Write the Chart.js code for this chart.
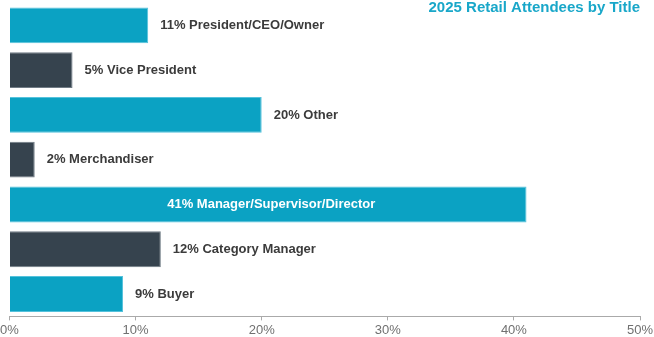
<!DOCTYPE html>
<html>
<head>
<meta charset="utf-8">
<script src="https://cdn.jsdelivr.net/npm/chart.js@4"></script>
<style>
html,body{margin:0;padding:0;background:#fff;}
#wrap{width:654px;height:337px;position:relative;}
</style>
</head>
<body>
<div id="wrap"><canvas id="c"></canvas></div>
<script>
const categories = ["President/CEO/Owner","Vice President","Other","Merchandiser","Manager/Supervisor/Director","Category Manager","Buyer"];
const values = [11,5,20,2,41,12,9];
const tickValues = [0,10,20,30,40,50];
const title = "2025 Retail Attendees by Title";

const TEAL = "#0ba2c3", TEAL_B = "#55c2dc";
const DARK = "#36434e", DARK_B = "#707b85";
const fills = values.map((v,i)=> i%2===0 ? TEAL : DARK);
const borders = values.map((v,i)=> i%2===0 ? TEAL_B : DARK_B);

const labelPlugin = {
  id:'labels',
  afterDatasetsDraw(chart){
    const ctx = chart.ctx;
    const meta = chart.getDatasetMeta(0);
    ctx.save();
    ctx.font = "bold 13px 'Liberation Sans', Arial, sans-serif";
    ctx.textBaseline = 'middle';
    meta.data.forEach((bar,i)=>{
      const txt = values[i] + "% " + categories[i];
      if (values[i] > 30) {
        ctx.fillStyle = '#ffffff';
        ctx.textAlign = 'center';
        ctx.fillText(txt, (bar.x + bar.base)/2 + 3, bar.y);
      } else {
        ctx.fillStyle = '#3b3b3b';
        ctx.textAlign = 'left';
        ctx.fillText(txt, bar.x + 12, bar.y);
      }
    });
    ctx.restore();
  }
};
const titlePlugin = {
  id:'ttl',
  afterDraw(chart){
    const ctx = chart.ctx;
    ctx.save();
    ctx.font = "bold 15px 'Liberation Sans', Arial, sans-serif";
    ctx.fillStyle = '#19a7c9';
    ctx.textAlign = 'right';
    ctx.textBaseline = 'alphabetic';
    ctx.fillText(title, 640, 11.5);
    ctx.restore();
  }
};

new Chart(document.getElementById('c'), {
  type:'bar',
  data:{
    labels: categories,
    datasets:[{
      data: values,
      backgroundColor: fills,
      borderColor: borders,
      borderWidth: 1,
      barPercentage: 0.8,
      categoryPercentage: 1
    }]
  },
  options:{
    indexAxis:'y',
    responsive:true,
    maintainAspectRatio:false,
    animation:false,
    layout:{padding:{left:0,right:0,top:3,bottom:-3}},
    plugins:{legend:{display:false},tooltip:{enabled:false},title:{display:false}},
    scales:{
      x:{
        min:0,max:50,
        afterBuildTicks(s){ s.ticks = tickValues.map(v=>({value:v})); },
        afterFit(s){ s.paddingLeft = 9.5; s.paddingRight = 14; },
        ticks:{callback:v=>v+'%', color:'#707070', font:{family:"'Liberation Sans', Arial, sans-serif", size:13}, padding:2, maxRotation:0},
        grid:{display:true, drawOnChartArea:false, drawTicks:true, tickLength:4, color:'#aaa'},
        border:{display:true, color:'#aaa', width:1}
      },
      y:{display:false}
    }
  },
  plugins:[labelPlugin,titlePlugin]
});
</script>
</body>
</html>
